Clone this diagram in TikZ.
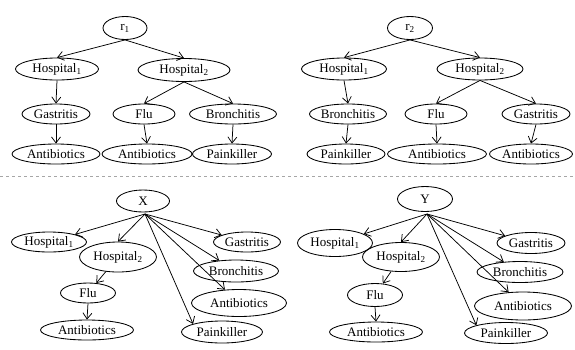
\documentclass[tikz,border=0pt]{standalone}
\usepackage{fontspec}
\setmainfont{Liberation Serif}
\usetikzlibrary{shapes.geometric,arrows.meta}
\begin{document}
\begin{tikzpicture}[x=1pt,y=-1pt,
  el/.style n args={2}{draw,ellipse,inner sep=0pt,minimum width=#1pt,minimum height=#2pt,font=\fontsize{13}{15}\selectfont,line width=0.85pt},
  arr/.style={-{Straight Barb[length=6pt,width=9pt]},line width=0.75pt},
  sep/.style={gray!70,dashed,line width=0.6pt}]
\useasboundingbox (0,0) rectangle (575,349);
% ---------- top-left tree
\node[el={44}{23}] (r1) at (125,28) {r\textsubscript{1}};
\node[el={83}{22}] (a1) at (57,69) {Hospital\textsubscript{1}};
\node[el={92}{23}] (a2) at (184,70) {Hospital\textsubscript{2}};
\node[el={68}{20}] (a3) at (56,114) {Gastritis};
\node[el={62}{20}] (a4) at (144,114) {Flu};
\node[el={87}{20}] (a5) at (233,114) {Bronchitis};
\node[el={88}{20}] (a6) at (56,154) {Antibiotics};
\node[el={90}{20}] (a7) at (147,154) {Antibiotics};
\node[el={79}{20}] (a8) at (232,154) {Painkiller};
\draw[arr] (r1.south) -- (a1.north);
\draw[arr] (r1.south) -- (a2.north);
\draw[arr] (a1.south) -- (a3.north);
\draw[arr] (a2.south) -- (a4.north);
\draw[arr] (a2.south) -- (a5.north);
\draw[arr] (a3.south) -- (a6.north);
\draw[arr] (a4.south) -- (a7.north);
\draw[arr] (a5.south) -- (a8.north);
% ---------- top-right tree
\node[el={45}{23}] (r2) at (410,28) {r\textsubscript{2}};
\node[el={85}{22}] (b1) at (344,69) {Hospital\textsubscript{1}};
\node[el={86}{22}] (b2) at (480,69) {Hospital\textsubscript{2}};
\node[el={77}{20}] (b3) at (348,114) {Bronchitis};
\node[el={62}{20}] (b4) at (436,114) {Flu};
\node[el={68}{20}] (b5) at (536,114) {Gastritis};
\node[el={78}{20}] (b6) at (346,154) {Painkiller};
\node[el={99}{20}] (b7) at (437,154) {Antibiotics};
\node[el={83}{20}] (b8) at (531,154) {Antibiotics};
\draw[arr] (r2.south) -- (b1.north);
\draw[arr] (r2.south) -- (b2.north);
\draw[arr] (b1.south) -- (b3.north);
\draw[arr] (b2.south) -- (b4.north);
\draw[arr] (b2.south) -- (b5.north);
\draw[arr] (b3.south) -- (b6.north);
\draw[arr] (b4.south) -- (b7.north);
\draw[arr] (b5.south) -- (b8.north);
% ---------- separator
\coordinate (sl) at (0,176);
\coordinate (sr) at (575,176);
\draw[sep] (sl) -- (sr);
% ---------- bottom-left
\node[el={53}{22}] (x) at (143,201) {X};
\node[el={75}{20}] (c1) at (49,242) {Hospital\textsubscript{1}};
\node[el={77}{30}] (c2) at (118,257) {Hospital\textsubscript{2}};
\node[el={67}{20}] (c3) at (247,242) {Gastritis};
\node[el={85}{22}] (c4) at (236,271) {Bronchitis};
\node[el={95}{27}] (c5) at (239,303) {Antibiotics};
\node[el={55}{20}] (c6) at (88,293) {Flu};
\node[el={93}{20}] (c7) at (87,330) {Antibiotics};
\node[el={81}{22}] (c8) at (222,332) {Painkiller};
\coordinate (xs) at (145,214);
\draw[arr] (xs) -- (c1);
\draw[arr] (xs) -- (c2.north);
\draw[arr] (xs) -- (c3);
\draw[arr] (xs) -- (c4);
\draw[arr] (xs) -- (c5);
\draw[arr] (xs) -- (c8.north west);
\draw[arr] (c2) -- (c6);
\draw[arr] (c6.south) -- (c7.north);
% ---------- bottom-right
\node[el={55}{25}] (y) at (425,199) {Y};
\node[el={75}{27}] (d1) at (335,243) {Hospital\textsubscript{1}};
\node[el={77}{29}] (d2) at (401,257) {Hospital\textsubscript{2}};
\node[el={68}{21}] (d3) at (531,243) {Gastritis};
\node[el={86}{21}] (d4) at (520,272) {Bronchitis};
\node[el={97}{28}] (d5) at (523,306) {Antibiotics};
\node[el={55}{23}] (d6) at (375,295) {Flu};
\node[el={93}{20}] (d7) at (376,332) {Antibiotics};
\node[el={83}{21}] (d8) at (506,333) {Painkiller};
\coordinate (ys) at (427,214);
\draw[arr] (ys) -- (d1);
\draw[arr] (ys) -- (d2.north);
\draw[arr] (ys) -- (d3);
\draw[arr] (ys) -- (d4);
\draw[arr] (ys) -- (d5);
\draw[arr] (ys) -- (d8.north west);
\draw[arr] (d2) -- (d6);
\draw[arr] (d6.south) -- (d7.north);
\end{tikzpicture}
\end{document}
